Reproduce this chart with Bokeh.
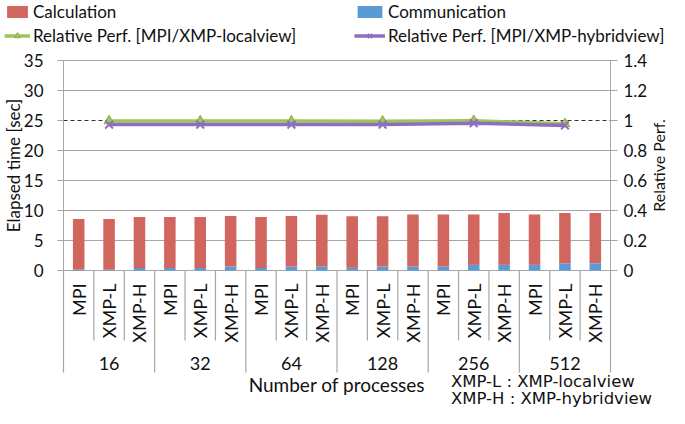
import math
from bokeh.plotting import figure
from bokeh.models import (FactorRange, Range1d, LinearAxis, FixedTicker,
                          Legend, LegendItem, ColumnDataSource, NumeralTickFormatter)
from bokeh.core.properties import value
from bokeh.embed import file_html
from bokeh.resources import INLINE

# ---------------- data ----------------
groups = ["16", "32", "64", "128", "256", "512"]
subs = ["MPI", "XMP-L", "XMP-H"]
elapsed_total = [8.6, 8.6, 8.9, 8.9, 8.9, 9.1, 8.9, 9.1, 9.3,
                 9.05, 9.05, 9.33, 9.33, 9.33, 9.6, 9.33, 9.6, 9.6]
communication = [0.12, 0.12, 0.42, 0.42, 0.42, 0.66, 0.42, 0.66, 0.66,
                 0.44, 0.66, 0.66, 0.66, 0.94, 0.94, 0.94, 1.2, 1.2]
calculation = [round(t - c, 2) for t, c in zip(elapsed_total, communication)]
rel_local = [0.997, 0.997, 0.996, 0.995, 0.999, 0.978]
rel_hybrid = [0.973, 0.973, 0.973, 0.973, 0.982, 0.967]
time_ticks = [0, 5, 10, 15, 20, 25, 30, 35]
rel_ticks = [0, 0.2, 0.4, 0.6, 0.8, 1.0, 1.2, 1.4]
notes = ["XMP-L : XMP-localview", "XMP-H : XMP-hybridview"]

# ---------------- style / layout ----------------
RED = "#D1665F"
BLUE = "#5B9BD5"
GREEN = "#9FC45A"
PURPLE = "#8F6EBF"
GRID = "#A6A6A6"
TXT = "#111111"
FONT = "Lato"
W, H = 669, 408
LB = 4                   # left border (px)
PX = 6.0                 # pixels per second on the time axis
TOP_PX = 60              # pixel row of the 35 s gridline
UNIT = 547 / 18          # pixels per category
PAD = (W - LB - 18 * UNIT) / 2 / UNIT
AXIS_X = LB + PAD * UNIT # pixel column of the left axis

factors = [(g, s) for g in groups for s in subs]
n = len(factors)
src = ColumnDataSource(dict(x=factors, comm=communication, calc=calculation))

Y1 = 35 + TOP_PX / PX
Y0 = Y1 - H / PX
p = figure(width=W, height=H,
           x_range=FactorRange(*factors, group_padding=0, factor_padding=0,
                               range_padding=PAD, range_padding_units="absolute"),
           y_range=Range1d(Y0, Y1), output_backend="svg", toolbar_location=None,
           title=None, x_axis_location=None,
           min_border_left=LB, min_border_right=0, min_border_top=0, min_border_bottom=0)
p.outline_line_color = None
p.xgrid.visible = False
p.ygrid.visible = False
p.extra_y_ranges = {"rel": Range1d(Y0 / 25.0, Y1 / 25.0)}

# left axis (fixed at the left edge of the categories)
ax = p.yaxis[0]
ax.fixed_location = 0
ax.ticker = FixedTicker(ticks=time_ticks)
ax.bounds = (0, 35)
ax.major_label_text_font = FONT
ax.major_label_text_font_size = "17px"
ax.major_label_text_color = TXT
ax.major_label_standoff = 14
ax.axis_line_color = GRID
ax.major_tick_line_color = GRID
ax.major_tick_out = 6
ax.major_tick_in = 0
ax.minor_tick_line_color = None

# right axis
ra = LinearAxis(y_range_name="rel", ticker=FixedTicker(ticks=rel_ticks), bounds=(0, 1.4),
                formatter=NumeralTickFormatter(format="0.[0]"), fixed_location=n)
ra.major_label_text_font = FONT
ra.major_label_text_font_size = "17px"
ra.major_label_text_color = TXT
ra.major_label_standoff = 6
ra.axis_line_color = GRID
ra.major_tick_line_color = GRID
ra.major_tick_out = 7
ra.major_tick_in = 0
ra.minor_tick_line_color = None
p.add_layout(ra, "right")

# axis titles
p.text(x=[-(AXIS_X - 13) / UNIT], y=[17.5], text=["Elapsed time [sec]"], angle=math.pi / 2,
       text_align="center", text_baseline="middle", text_font=value(FONT),
       text_font_size="17px", text_color=TXT)
p.text(x=[n + 48 / UNIT], y=[17.5], text=["Relative Perf."], angle=math.pi / 2,
       text_align="center", text_baseline="middle", text_font=value(FONT),
       text_font_size="16px", text_color=TXT)

# horizontal gridlines (25 s is replaced by the dashed 1.0 line)
gy = [t for t in time_ticks if t != 25]
p.segment(x0=[0] * len(gy), x1=[n] * len(gy), y0=gy, y1=gy, line_color=GRID, line_width=1.2)
p.segment(x0=[0], x1=[n], y0=[1.0], y1=[1.0], y_range_name="rel",
          line_color="#333333", line_dash="4 3", line_width=1)

# bars
r_comm, r_calc = p.vbar_stack(["comm", "calc"], x="x", width=0.38, color=[BLUE, RED],
                              line_color=None, source=src)

# relative performance
mid = [(g, "XMP-L") for g in groups]
gl = p.line(mid, rel_local, y_range_name="rel", line_color=GREEN, line_width=3.5)
gs = p.scatter(mid, rel_local, y_range_name="rel", marker="triangle", size=10,
               fill_color=GREEN, line_color="#8DB04A")
pl = p.line(mid, rel_hybrid, y_range_name="rel", line_color=PURPLE, line_width=3.5)
ps = p.scatter(mid, rel_hybrid, y_range_name="rel", marker="x", size=11,
               line_color=PURPLE, line_width=2)

# category axis
sep_x = list(range(n + 1))
sep_y1 = [-102 / PX if i % len(subs) == 0 else -70 / PX for i in sep_x]
p.segment(x0=sep_x, y0=[0] * len(sep_x), x1=sep_x, y1=sep_y1,
          line_color=GRID, line_width=1.2)
p.text(x=factors, y=[-13 / PX] * n, text=[s for _, s in factors], angle=math.pi / 2,
       text_align="right", text_baseline="middle", text_font=value(FONT),
       text_font_size="18px", text_color=TXT)
p.text(x=mid, y=[-93 / PX] * len(groups), text=groups, text_align="center",
       text_baseline="middle", text_font=value(FONT), text_font_size="18px",
       text_color=TXT)
p.text(x=[n / 2], y=[-114 / PX], text=["Number of processes"], text_align="center",
       text_baseline="middle", text_font=value(FONT), text_font_size="19px",
       text_color=TXT)
p.text(x=[12.75, 12.75], y=[-111 / PX, -128 / PX], text=notes, text_align="left",
       text_baseline="middle", text_font=value("DejaVu Sans"), text_font_size="16.5px",
       text_color=TXT)

# legends
common = dict(padding=0, margin=0, spacing=2, border_line_color=None,
              background_fill_alpha=0, glyph_height=15,
              label_height=22, label_standoff=3, label_text_font=FONT,
              label_text_font_size="17px", label_text_color=TXT)
leg1 = Legend(items=[LegendItem(label="Calculation", renderers=[r_calc]),
                     LegendItem(label="Relative Perf. [MPI/XMP-localview]", renderers=[gl, gs])],
              location=(0, H - 46), glyph_width=26, **common)
leg2 = Legend(items=[LegendItem(label="Communication", renderers=[r_comm]),
                     LegendItem(label="Relative Perf. [MPI/XMP-hybridview]", renderers=[pl, ps])],
              location=(354 - LB, H - 46), glyph_width=31, **common)
p.add_layout(leg1, "center")
p.add_layout(leg2, "center")

open("out.html", "w").write(file_html(p, INLINE))
